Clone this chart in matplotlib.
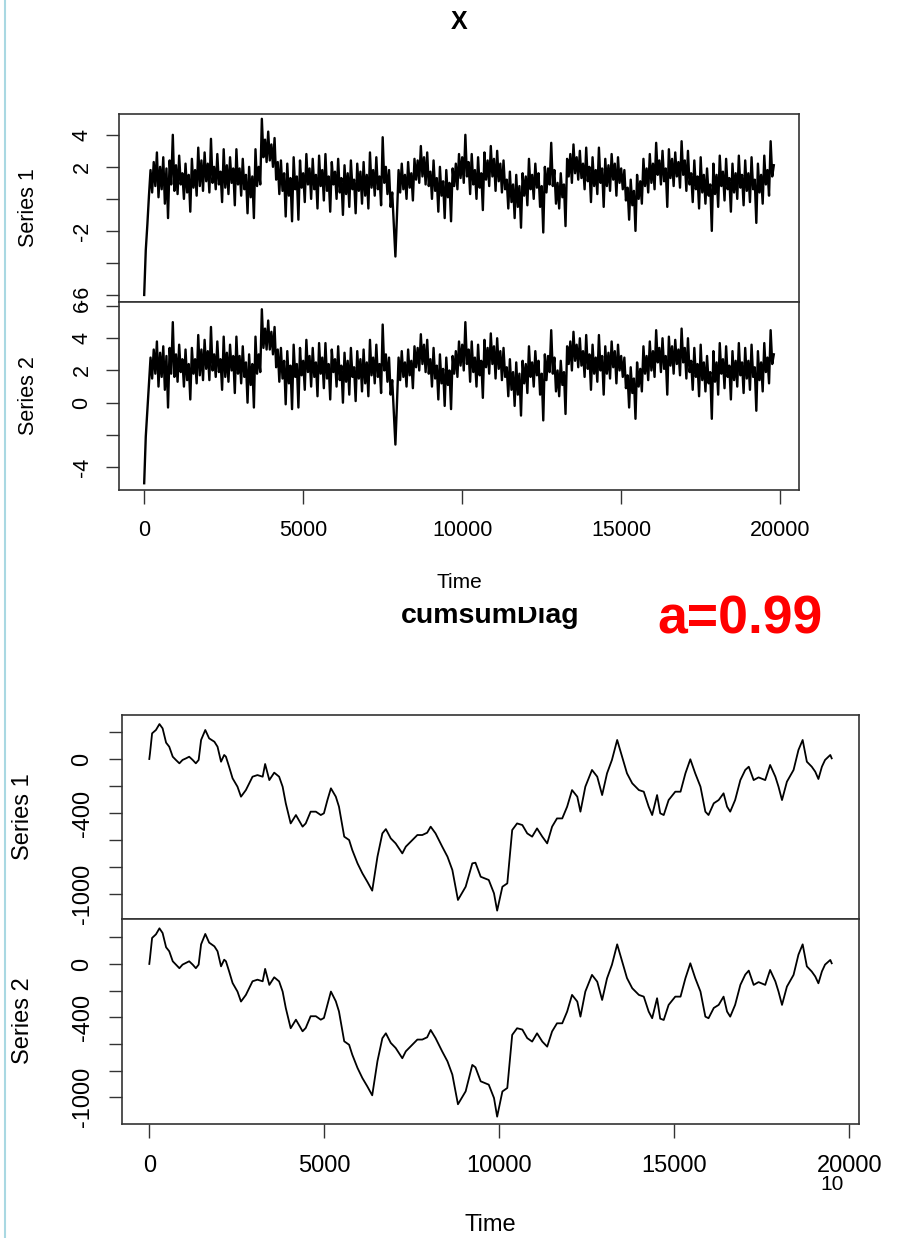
import numpy as np
import matplotlib
matplotlib.use("Agg")
import matplotlib.pyplot as plt
from matplotlib.patches import Rectangle
from matplotlib.lines import Line2D

plt.rcParams['font.family'] = ['Liberation Sans', 'DejaVu Sans']

# ---- data: X (values read every 50 time steps, one row = 1000 steps) ----
x_series1 = [
    -6.0, -3.2, -1.6, 0.2, 1.8, 0.4, 2.3, 0.8, 2.9, 0.1, 2.0, 0.6, 2.6, -0.3, 1.9, -1.2, 2.4, 0.9, 4.0, 0.5,
    2.1, 0.3, 2.7, 0.9, 1.6, 0.0, 2.2, 0.4, 1.5, -0.8, 2.5, 0.7, 1.8, 0.2, 3.2, 0.8, 2.4, 0.5, 2.9, 1.1,
    2.2, 0.4, 3.75, 1.0, 2.0, 0.6, 2.8, 0.9, 1.7, -0.2, 3.1, 0.7, 2.1, 0.3, 2.6, 1.0, 1.9, -0.4, 3.1, 0.9,
    1.9, 0.2, 2.5, 0.6, 1.5, -0.9, 2.0, 0.1, 1.4, -1.2, 3.1, 0.8, 2.0, 0.9, 5.0, 2.6, 3.7, 2.3, 4.2, 2.4,
    3.4, 2.0, 3.8, 1.2, 2.3, 0.3, 2.4, 0.5, 1.6, -1.1, 2.2, 0.2, 1.3, -1.4, 2.6, 0.6, 1.4, -1.3, 2.4, 0.7,
    1.6, -0.2, 2.8, 0.9, 1.9, 0.0, 2.5, 0.6, 1.5, -0.6, 2.7, 0.8, 1.8, -0.1, 2.8, 0.5, 1.4, -0.8, 2.3, 0.9,
    1.7, 0.0, 2.5, 0.4, 1.3, -1.0, 2.1, 0.3, 1.6, -0.5, 2.4, 0.6, 1.2, -0.9, 2.2, 0.5, 1.7, -0.3, 2.3, 0.2,
    1.5, -0.6, 2.9, 0.7, 1.8, 0.2, 2.6, 0.6, 1.4, -0.4, 3.85, 1.0, 2.0, 0.3, 1.8, -0.5, 0.4, -1.6, -3.6, -1.0,
    1.8, 0.4, 2.2, 0.6, 1.5, 0.0, 2.3, 0.7, 1.6, -0.1, 2.5, 1.2, 2.4, 1.0, 3.3, 1.4, 2.6, 0.9, 2.9, 0.8,
    1.7, 0.0, 2.4, 0.5, 1.3, -0.8, 2.0, 0.2, 1.1, -1.2, 1.8, 0.1, 1.0, -1.4, 1.9, 0.8, 2.2, 0.6, 2.8, 1.3,
    2.6, 1.0, 4.0, 1.4, 2.3, 0.3, 2.8, 0.9, 1.8, 0.0, 2.6, 0.7, 1.6, -0.7, 2.9, 1.2, 2.4, 0.8, 3.3, 1.4,
    2.5, 0.5, 3.0, 1.1, 2.2, 0.4, 2.4, 0.6, 1.2, -0.6, 1.7, -0.2, 0.9, -1.2, 1.5, -0.5, 0.8, -1.8, 1.6, 0.2,
    1.4, -0.4, 2.5, 0.6, 1.5, 0.0, 2.2, 0.7, 1.6, -0.5, 0.8, -2.1, 2.0, 0.4, 1.9, 0.9, 3.5, 0.8, 1.8, -0.3,
    1.0, -0.6, 1.6, 0.1, 0.9, -1.7, 2.5, 1.4, 2.8, 1.0, 3.4, 1.6, 2.6, 1.2, 3.0, 1.3, 2.2, 0.6, 3.2, 1.1,
    2.0, -0.2, 2.6, 0.8, 1.8, 0.3, 3.2, 1.0, 1.9, -0.5, 2.5, 0.8, 2.1, 0.5, 2.8, 1.2, 2.2, 0.2, 2.6, 1.0,
    1.9, 0.6, 1.8, -0.1, 0.7, -1.3, 1.2, -0.4, 0.5, -2.0, 1.5, 0.0, 1.1, -0.3, 2.5, 0.8, 1.9, 0.4, 2.8, 1.0,
    2.2, 0.6, 3.5, 1.5, 2.4, 0.9, 3.0, 1.1, 1.9, -0.5, 3.1, 1.3, 2.5, 0.8, 2.9, 1.4, 2.3, 0.7, 3.6, 1.5,
    2.4, 0.5, 3.0, 0.9, 1.6, -0.2, 2.4, 0.6, 1.4, -0.6, 2.6, 0.4, 1.5, -0.3, 1.9, 0.2, 0.9, -2.0, 2.2, 0.3,
    1.5, -0.5, 2.7, 0.8, 1.7, -0.1, 2.5, 0.6, 1.3, -0.8, 2.2, 0.4, 1.6, 0.0, 2.7, 0.7, 1.5, -0.4, 2.4, 0.5,
    1.6, -0.2, 2.6, 0.6, 1.2, -1.5, 2.2, 0.4, 1.5, -0.3, 2.7, 0.9, 1.8, 0.2, 3.6, 1.4, 2.1,
]
x_series2 = [
    -5.0, -2.1, -0.5, 1.2, 2.8, 1.5, 3.3, 1.8, 3.8, 1.0, 3.1, 1.6, 3.5, 0.8, 2.9, -0.3, 3.4, 1.8, 5.0, 1.6,
    3.0, 1.3, 3.6, 1.9, 2.7, 1.0, 3.3, 1.4, 2.4, 0.2, 3.4, 1.8, 2.7, 1.2, 4.2, 1.7, 3.3, 1.4, 3.9, 2.1,
    3.2, 1.4, 4.7, 2.0, 3.0, 1.6, 3.8, 1.9, 2.7, 0.8, 4.1, 1.6, 3.1, 1.3, 3.6, 2.0, 2.9, 0.6, 4.1, 1.8,
    2.9, 1.2, 3.5, 1.6, 2.5, 0.0, 3.0, 1.1, 2.4, -0.3, 4.1, 1.8, 3.0, 1.9, 5.8, 3.4, 4.6, 3.3, 5.1, 3.3,
    4.4, 3.0, 4.7, 2.2, 3.3, 1.3, 3.4, 1.5, 2.6, -0.1, 3.2, 1.2, 2.3, -0.4, 3.6, 1.6, 2.4, -0.3, 3.4, 1.7,
    2.6, 0.8, 3.9, 1.9, 2.9, 1.0, 3.4, 1.6, 2.5, 0.4, 3.7, 1.8, 2.8, 0.9, 3.7, 1.5, 2.4, 0.2, 3.3, 1.9,
    2.7, 1.0, 3.5, 1.4, 2.3, 0.0, 3.1, 1.3, 2.6, 0.5, 3.4, 1.6, 2.2, 0.1, 3.2, 1.5, 2.7, 0.7, 3.3, 1.2,
    2.5, 0.4, 3.9, 1.7, 2.8, 1.2, 3.6, 1.6, 2.4, 0.6, 4.85, 2.0, 3.0, 1.3, 2.8, 0.5, 1.4, -0.6, -2.6, 0.0,
    2.8, 1.4, 3.2, 1.6, 2.5, 1.0, 3.3, 1.7, 2.6, 0.9, 3.5, 2.2, 3.4, 2.0, 4.25, 2.4, 3.6, 1.9, 3.9, 1.8,
    2.7, 1.0, 3.4, 1.5, 2.3, 0.2, 3.0, 1.2, 2.1, -0.2, 2.8, 1.1, 2.0, -0.4, 2.9, 1.8, 3.2, 1.6, 3.8, 2.3,
    3.6, 2.0, 5.0, 2.4, 3.3, 1.3, 3.8, 1.9, 2.8, 1.0, 3.6, 1.7, 2.6, 0.3, 3.9, 2.2, 3.4, 1.8, 4.3, 2.4,
    3.5, 1.5, 4.0, 2.1, 3.2, 1.4, 3.4, 1.6, 2.2, 0.4, 2.7, 0.8, 1.9, -0.2, 2.5, 0.5, 1.8, -0.8, 2.6, 1.2,
    2.4, 0.6, 3.5, 1.6, 2.5, 1.0, 3.2, 1.7, 2.6, 0.5, 1.8, -1.1, 3.0, 1.4, 2.9, 1.9, 4.5, 1.8, 2.8, 0.7,
    2.0, 0.4, 2.6, 1.1, 1.9, -0.7, 3.5, 2.4, 3.8, 2.0, 4.4, 2.6, 3.6, 2.2, 4.0, 2.3, 3.2, 1.6, 4.2, 2.1,
    3.0, 0.8, 3.6, 1.8, 2.8, 1.3, 4.2, 2.0, 2.9, 0.5, 3.5, 1.8, 3.1, 1.5, 3.8, 2.2, 3.2, 1.2, 3.6, 2.0,
    2.9, 1.6, 2.8, 0.9, 1.7, -0.3, 2.2, 0.6, 1.5, -1.0, 2.5, 1.0, 2.1, 0.7, 3.5, 1.8, 2.9, 1.4, 3.8, 2.0,
    3.2, 1.6, 4.5, 2.5, 3.4, 1.9, 4.0, 2.1, 2.9, 0.5, 4.1, 2.3, 3.5, 1.8, 3.9, 2.4, 3.3, 1.7, 4.6, 2.5,
    3.4, 1.5, 4.0, 1.9, 2.6, 0.8, 3.4, 1.6, 2.4, 0.4, 3.6, 1.4, 2.5, 0.7, 2.9, 1.2, 1.9, -1.0, 3.2, 1.3,
    2.5, 0.5, 3.7, 1.8, 2.7, 0.9, 3.5, 1.6, 2.3, 0.2, 3.2, 1.4, 2.6, 1.0, 3.7, 1.7, 2.5, 0.6, 3.4, 1.5,
    2.6, 0.8, 3.6, 1.6, 2.2, -0.5, 3.2, 1.4, 2.5, 0.7, 3.7, 1.9, 2.8, 1.2, 4.5, 2.4, 3.0,
]
x_step = 50

# ---- data: cumsumDiag ----
cum_time = [
    0, 20, 80, 190, 290, 380, 480, 570, 670, 760,
    860, 950, 1050, 1140, 1240, 1330, 1410, 1480, 1600, 1710,
    1860, 1950, 2050, 2140, 2190, 2280, 2380, 2520, 2620, 2760,
    2950, 3090, 3240, 3310, 3430, 3570, 3710, 3810, 3900, 4040,
    4190, 4380, 4470, 4610, 4760, 4900, 4990, 5090, 5190, 5330,
    5420, 5570, 5710, 5800, 5950, 6090, 6230, 6370, 6520, 6660,
    6760, 6900, 7040, 7230, 7330, 7520, 7660, 7800, 7940, 8040,
    8180, 8370, 8520, 8660, 8820, 9040, 9230, 9320, 9470, 9700,
    9850, 9940, 10090, 10230, 10370, 10510, 10660, 10800, 10940, 11080,
    11230, 11370, 11510, 11650, 11800, 11940, 12080, 12230, 12320, 12460,
    12650, 12800, 12940, 13080, 13220, 13370, 13510, 13650, 13800, 13990,
    14130, 14270, 14370, 14510, 14600, 14700, 14840, 15030, 15180, 15320,
    15460, 15600, 15750, 15890, 15980, 16130, 16270, 16410, 16510, 16600,
    16740, 16890, 17030, 17130, 17270, 17410, 17600, 17740, 17890, 17980,
    18080, 18220, 18410, 18550, 18670, 18790, 18930, 19030, 19120, 19220,
    19310, 19460, 19500,
]
cum_series1 = [
    0, 42, 190, 215, 259, 227, 121, 91, 17, -7,
    -32, -7, 5, 17, -7, -32, -7, 141, 215, 153,
    128, 91, -20, 30, 17, -57, -143, -205, -279, -230,
    -131, -119, -131, -37, -156, -101, -131, -205, -328, -477,
    -415, -501, -477, -390, -390, -415, -402, -304, -217, -279,
    -353, -575, -600, -674, -773, -847, -909, -975, -723, -551,
    -519, -588, -625, -699, -649, -600, -563, -563, -546, -501,
    -551, -649, -723, -822, -1044, -946, -773, -768, -872, -896,
    -995, -1123, -946, -921, -526, -477, -489, -551, -575, -514,
    -575, -625, -501, -440, -440, -353, -230, -279, -390, -205,
    -81, -131, -267, -106, -7, 141, 17, -106, -180, -230,
    -242, -353, -415, -267, -402, -415, -304, -242, -242, -106,
    -2, -106, -205, -390, -415, -328, -304, -254, -353, -390,
    -304, -156, -81, -57, -156, -136, -156, -44, -131, -205,
    -304, -168, -81, 67, 141, -20, -57, -94, -148, -57,
    -7, 30, 5,
]
cum_series2 = [
    0, 45, 195, 222, 267, 232, 125, 95, 20, -5,
    -32, -5, 8, 20, -5, -32, -5, 147, 225, 160,
    132, 95, -18, 32, 20, -55, -143, -207, -282, -232,
    -130, -118, -130, -37, -157, -100, -131, -207, -330, -482,
    -418, -505, -480, -392, -392, -418, -405, -306, -207, -280,
    -356, -580, -606, -680, -780, -856, -918, -985, -728, -557,
    -520, -592, -630, -707, -655, -605, -567, -567, -550, -495,
    -556, -656, -730, -830, -1052, -955, -757, -775, -880, -905,
    -1005, -1145, -956, -930, -532, -482, -492, -556, -582, -520,
    -582, -620, -506, -445, -445, -357, -232, -282, -395, -207,
    -82, -133, -270, -108, -6, 147, 20, -106, -182, -232,
    -245, -357, -407, -257, -410, -420, -307, -245, -245, -107,
    5, -106, -207, -395, -407, -330, -307, -245, -357, -395,
    -307, -157, -80, -50, -157, -136, -157, -45, -131, -207,
    -307, -170, -82, 70, 147, -18, -57, -94, -145, -56,
    -5, 30, 5,
]

x_ticks = [0, 5000, 10000, 15000, 20000]
x_ticklabels = ["0", "5000", "10000", "15000", "20000"]
top1_yticks = [-6, -4, -2, 0, 2, 4]
top1_ylabels = ["-6", "", "-2", "", "2", "4"]
top2_yticks = [-4, -2, 0, 2, 4, 6]
top2_ylabels = ["-4", "", "0", "2", "4", "6"]
cum_yticks = [-1000, -800, -600, -400, -200, 0, 200]
cum_ylabels = ["-1000", "", "", "-400", "", "0", ""]

W, H = 901, 1238
fig = plt.figure(figsize=(W / 100, H / 100), dpi=100)
edge = '#333333'


def px_axes(x0, y0, x1, y1):
    return fig.add_axes([x0 / W, 1 - y1 / H, (x1 - x0) / W, (y1 - y0) / H])


def style(ax, fs, ypad, xlim, ylim, yticks, ylabels, xpad=None):
    ax.set_xlim(*xlim)
    ax.set_ylim(*ylim)
    for s in ax.spines.values():
        s.set_color(edge)
        s.set_linewidth(1.2)
    ax.set_yticks(yticks)
    ax.set_yticklabels(ylabels, rotation=90, va='center')
    ax.tick_params(axis='y', direction='out', length=9.5, width=1.0,
                   color=edge, labelsize=fs, pad=ypad)
    if xpad is None:
        ax.set_xticks([])
    else:
        ax.set_xticks(x_ticks)
        ax.set_xticklabels(x_ticklabels)
        ax.tick_params(axis='x', direction='out', length=10, width=1.0,
                       color=edge, labelsize=fs, pad=xpad)


# ---- top chart: X ----
fs_top = 15.5
a1 = px_axes(119, 114, 799, 302)
a1.plot(np.arange(len(x_series1)) * x_step, x_series1, color='black', lw=1.7)
style(a1, fs_top, 9.5, (-792, 20592), (-6.44, 5.3), top1_yticks, top1_ylabels)

a2 = px_axes(119, 302, 799, 490)
a2.plot(np.arange(len(x_series2)) * x_step, x_series2, color='black', lw=1.7)
style(a2, fs_top, 9.5, (-792, 20592), (-5.42, 6.25), top2_yticks, top2_ylabels, xpad=11.5)

# ---- bottom chart: cumsumDiag ----
fs_bot = 17
b1 = px_axes(122, 715, 859, 919)
b1.plot(cum_time, cum_series1, color='black', lw=1.3)
style(b1, fs_bot, 11, (-780, 20280), (-1185, 326), cum_yticks, cum_ylabels)

b2 = px_axes(122, 919, 859, 1124)
b2.plot(cum_time, cum_series2, color='black', lw=1.3)
style(b2, fs_bot, 11, (-780, 20280), (-1200, 337), cum_yticks, cum_ylabels, xpad=12)


def ftext(x, y, s, **kw):
    return fig.text(x / W, 1 - y / H, s, **kw)


ftext(459, 22, "X", ha='center', va='center', fontsize=18, fontweight='bold')
ftext(28, 208, "Series 1", rotation=90, ha='center', va='center', fontsize=fs_top)
ftext(28, 396, "Series 2", rotation=90, ha='center', va='center', fontsize=fs_top)
ftext(459, 583, "Time", ha='center', va='center', fontsize=15, zorder=5)

ftext(490, 623, "cumsumDiag", ha='center', va='baseline', fontsize=20.5,
      fontweight='bold', zorder=2)
# top of the second title is cut off in the source picture
fig.patches.append(Rectangle((370 / W, 1 - 607 / H), 240 / W, 13 / H,
                             transform=fig.transFigure, facecolor='white',
                             edgecolor='none', zorder=3))

ftext(740, 634, "a=0.99", ha='center', va='baseline', fontsize=38.5,
      fontweight='bold', color='#ff0000')

ftext(23, 817, "Series 1", rotation=90, ha='center', va='center', fontsize=fs_bot)
ftext(23, 1021, "Series 2", rotation=90, ha='center', va='center', fontsize=fs_bot)
ftext(490, 1225, "Time", ha='center', va='center', fontsize=fs_bot)
ftext(832, 1184, "10", ha='center', va='center', fontsize=15)

# light blue page edge on the left
fig.lines.append(Line2D([5 / W, 5 / W], [0, 1], transform=fig.transFigure,
                        color='#a9d8e2', lw=1.5))

fig.savefig("out.png", dpi=100)
